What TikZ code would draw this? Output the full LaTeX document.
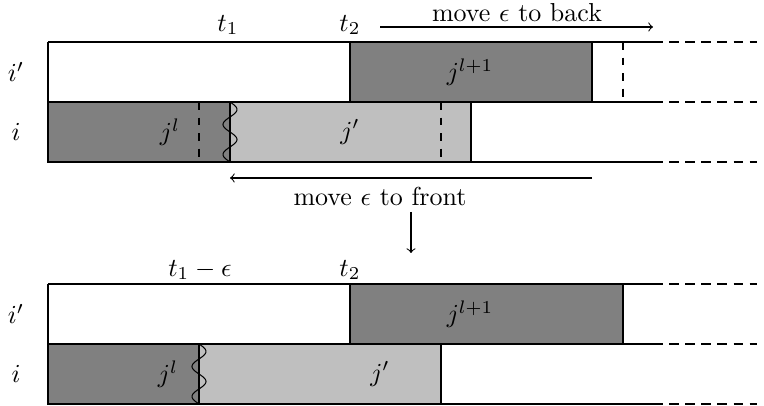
\documentclass[tikz,border=0pt]{standalone}
\usepackage{amsmath,amssymb}
\usetikzlibrary{positioning}

\begin{document}
\begin{tikzpicture}[
  x=0.385pt, y=-0.385pt,
  arr/.style={->},
  lab/.style={font=\normalsize},
  jobdark/.style={draw, fill=gray},
  joblight/.style={draw, fill=lightgray},
  vdash/.style={dashed},
  hdash/.style={dash pattern=on 3.8pt off 2.4pt}
]
\useasboundingbox (0,0) rectangle (764,406);

% ===== MACHINE LINES =====
\foreach \y in {42,102,162,284,344,404} {
  \draw (48,\y) -- (653,\y);
  \draw[hdash] (653,\y) -- (757,\y);
}
\draw (48,42) -- (48,162);
\draw (48,284) -- (48,404);

% ===== BEFORE =====
\draw[jobdark] (350,42) rectangle (592,102);
\draw[jobdark] (48,102) rectangle (230,162);
\draw[joblight] (230,102) rectangle (471,162);
\draw[vdash] (199,102) -- (199,162);
\draw[vdash] (441,102) -- (441,162);
\draw[vdash] (623,42) -- (623,102);
\draw plot[domain=102:162, samples=60, smooth] ({230+7*sin(12*(\x-102))},\x);

\node[lab] (top_ip) at (16,72) {$i'$};
\node[lab] (top_i) at (16,132) {$i$};
\node[lab] (top_t1) at (228,25) {$t_1$};
\node[lab] (top_t2) at (350,25) {$t_2$};
\node[lab] (top_jl) at (170,132) {$j^l$};
\node[lab] (top_jp) at (350,132) {$j'$};
\node[lab] (top_jn) at (470,72) {$j^{l+1}$};

\node[lab] (back_lab) at (517,13) {move $\epsilon$ to back};
\coordinate (back_s) at (380,27);
\coordinate (back_e) at (653,27);
\draw[arr] (back_s) -- (back_e);

\node[lab] (front_lab) at (380,196) {move $\epsilon$ to front};
\coordinate (front_s) at (592,178);
\coordinate (front_e) at (230,178);
\draw[arr] (front_s) -- (front_e);

\coordinate (down_s) at (411,212);
\coordinate (down_e) at (411,253);
\draw[arr] (down_s) -- (down_e);

% ===== AFTER =====
\draw[jobdark] (350,284) rectangle (623,344);
\draw[jobdark] (48,344) rectangle (199,404);
\draw[joblight] (199,344) rectangle (441,404);
\draw plot[domain=344:404, samples=60, smooth] ({199+7*sin(12*(\x-344))},\x);

\node[lab] (bot_ip) at (16,314) {$i'$};
\node[lab] (bot_i) at (16,374) {$i$};
\node[lab] (bot_t1) at (200,270) {$t_1-\epsilon$};
\node[lab] (bot_t2) at (350,270) {$t_2$};
\node[lab] (bot_jl) at (168,374) {$j^l$};
\node[lab] (bot_jp) at (380,374) {$j'$};
\node[lab] (bot_jn) at (470,314) {$j^{l+1}$};

\end{tikzpicture}
\end{document}
